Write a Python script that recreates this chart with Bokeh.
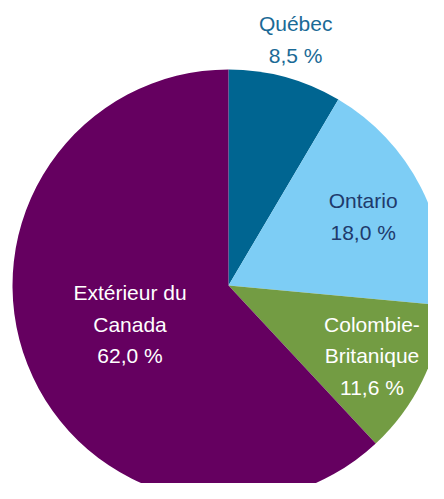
import math
from bokeh.plotting import figure
from bokeh.models import ColumnDataSource, Range1d
from bokeh.core.properties import value
from bokeh.embed import file_html
from bokeh.resources import INLINE

# ---- data ----
categories = ["Québec", "Ontario", "Colombie-\nBritanique", "Extérieur du\nCanada"]
shares = [8.5, 18.0, 11.6, 62.0]
share_labels = ["8,5 %", "18,0 %", "11,6 %", "62,0 %"]

# ---- style ----
colors = ["#006591", "#7DCDF5", "#739C43", "#650060"]
text_colors = ["#1B6A96", "#203A6C", "#FFFFFF", "#FFFFFF"]
label_radius_factor = [1.18, 0.70, 0.74, 0.49]

W, H = 428, 483
cx, cy, R = 228, 198, 216
FONT = "Liberation Sans"

total = sum(shares)
starts, ends, lx, ly, texts = [], [], [], [], []
a = math.pi / 2
for i, s in enumerate(shares):
    sweep = s / total * 2 * math.pi
    starts.append(a)
    ends.append(a - sweep)
    mid = a - sweep / 2
    r = R * label_radius_factor[i]
    lx.append(cx + r * math.cos(mid))
    ly.append(cy + r * math.sin(mid))
    texts.append(categories[i] + "\n" + share_labels[i])
    a -= sweep

src = ColumnDataSource(dict(start=starts, end=ends, color=colors,
                            x=lx, y=ly, text=texts, tcolor=text_colors))

p = figure(width=W, height=H, output_backend="svg", toolbar_location=None,
           x_range=Range1d(0, W), y_range=Range1d(0, H), min_border=0)
p.axis.visible = False
p.grid.visible = False
p.outline_line_color = None
p.background_fill_color = "white"

p.wedge(x=cx, y=cy, radius=R, start_angle="start", end_angle="end",
        direction="clock", fill_color="color", line_color=None, source=src)

p.text(x="x", y="y", text="text", text_color="tcolor", source=src,
       text_font=value(FONT), text_font_size="21px", text_align="center",
       text_baseline="middle", text_line_height=1.38)

open("out.html", "w").write(file_html(p, INLINE))
